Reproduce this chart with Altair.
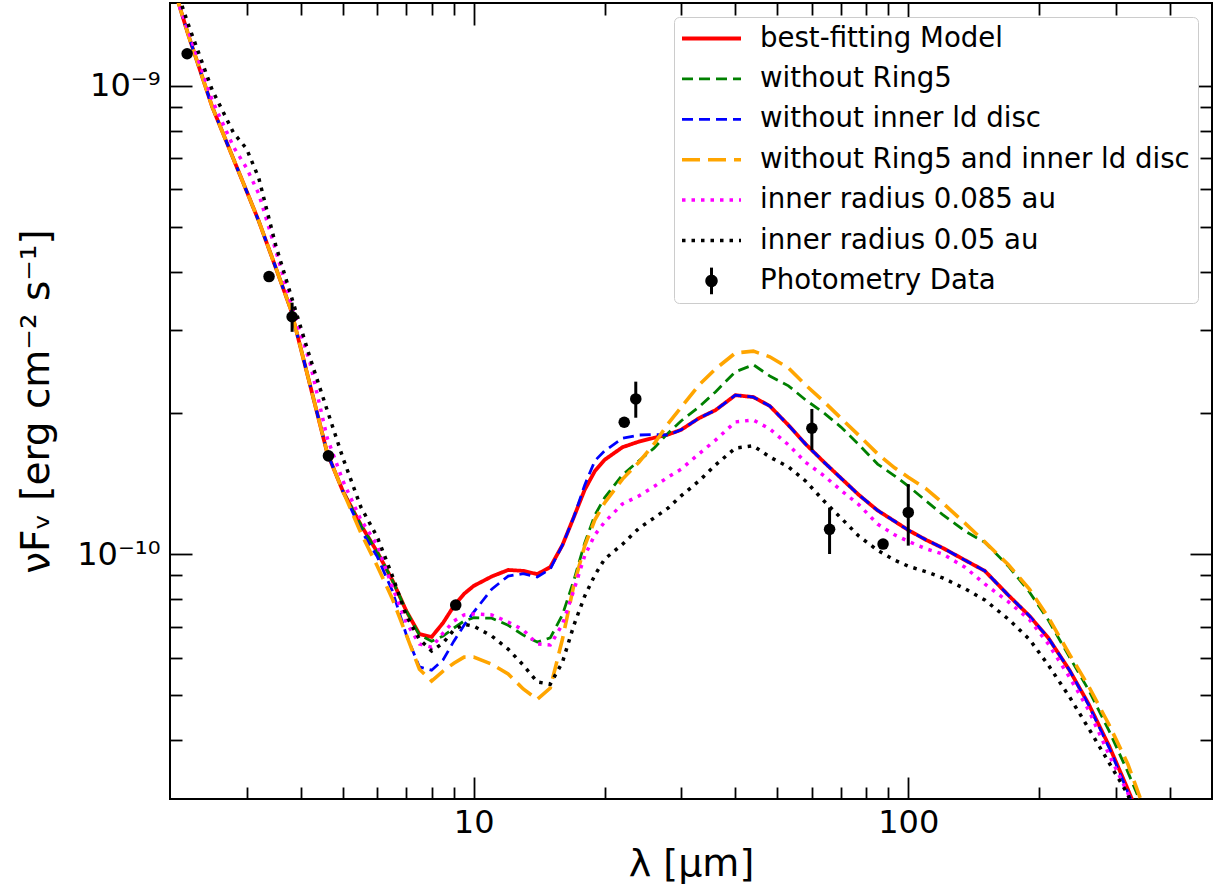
import altair as alt
import pandas as pd

# ---------------- data ----------------
lam_grid = [2.0, 2.2, 2.5, 2.8, 3.0, 3.2, 3.5, 3.8, 4.2, 4.6,
            5.0, 5.5, 6.0, 6.5, 7.0, 7.5, 8.0, 8.5, 9.0, 9.5,
            10, 11, 12, 13, 14, 15, 16, 17, 18, 19,
            20, 22, 24, 26, 28, 30, 33, 36, 40, 44,
            48, 53, 58, 64, 70, 77, 85, 93, 100, 110,
            120, 135, 150, 170, 190, 210, 235, 260, 290, 320,
            350]

# log10(nu F_nu / erg cm^-2 s^-1) for each model curve
log_best = [-8.764, -8.890, -9.045, -9.157, -9.225, -9.289, -9.388, -9.480, -9.639, -9.784,
            -9.866, -9.938, -9.996, -10.056, -10.122, -10.171, -10.177, -10.147, -10.111, -10.085,
            -10.068, -10.048, -10.034, -10.036, -10.043, -10.028, -9.981, -9.921, -9.863, -9.823,
            -9.799, -9.772, -9.760, -9.752, -9.745, -9.735, -9.710, -9.693, -9.661, -9.665,
            -9.684, -9.725, -9.765, -9.804, -9.838, -9.874, -9.907, -9.930, -9.949, -9.970,
            -9.987, -10.013, -10.036, -10.088, -10.132, -10.179, -10.248, -10.320, -10.410, -10.502,
            -10.589]
log_noring5 = [-8.764, -8.890, -9.045, -9.157, -9.225, -9.289, -9.388, -9.480, -9.639, -9.784,
               -9.866, -9.938, -9.996, -10.056, -10.122, -10.173, -10.186, -10.175, -10.158, -10.143,
               -10.136, -10.137, -10.152, -10.173, -10.188, -10.179, -10.130, -10.056, -9.977, -9.917,
               -9.880, -9.831, -9.801, -9.774, -9.742, -9.716, -9.686, -9.654, -9.611, -9.596,
               -9.620, -9.641, -9.671, -9.699, -9.729, -9.767, -9.808, -9.833, -9.855, -9.887,
               -9.916, -9.951, -9.975, -10.026, -10.081, -10.141, -10.220, -10.290, -10.378, -10.465,
               -10.551]
log_noinner = [-8.764, -8.890, -9.045, -9.157, -9.225, -9.289, -9.388, -9.480, -9.639, -9.784,
               -9.866, -9.949, -10.006, -10.079, -10.173, -10.241, -10.248, -10.226, -10.186, -10.152,
               -10.124, -10.075, -10.047, -10.042, -10.049, -10.032, -9.981, -9.921, -9.853, -9.801,
               -9.780, -9.753, -9.746, -9.745, -9.746, -9.735, -9.710, -9.693, -9.661, -9.665,
               -9.684, -9.725, -9.765, -9.804, -9.838, -9.874, -9.907, -9.930, -9.949, -9.970,
               -9.987, -10.013, -10.036, -10.088, -10.132, -10.179, -10.248, -10.322, -10.414, -10.508,
               -10.595]
log_noboth = [-8.764, -8.890, -9.045, -9.157, -9.225, -9.289, -9.388, -9.480, -9.639, -9.784,
              -9.866, -9.955, -10.026, -10.096, -10.173, -10.246, -10.271, -10.250, -10.233, -10.220,
              -10.220, -10.235, -10.256, -10.288, -10.310, -10.286, -10.182, -10.066, -9.983, -9.927,
              -9.891, -9.840, -9.804, -9.765, -9.722, -9.687, -9.639, -9.605, -9.571, -9.567,
              -9.579, -9.603, -9.639, -9.675, -9.710, -9.747, -9.786, -9.816, -9.836, -9.861,
              -9.891, -9.934, -9.974, -10.023, -10.075, -10.135, -10.214, -10.282, -10.365, -10.448,
              -10.547]
log_r085 = [-8.774, -8.881, -9.031, -9.131, -9.176, -9.231, -9.351, -9.466, -9.592, -9.752,
            -9.844, -9.927, -9.981, -10.071, -10.147, -10.192, -10.199, -10.169, -10.143, -10.130,
            -10.128, -10.130, -10.145, -10.162, -10.192, -10.194, -10.150, -10.077, -10.004, -9.959,
            -9.932, -9.893, -9.876, -9.856, -9.836, -9.819, -9.786, -9.757, -9.718, -9.714,
            -9.733, -9.767, -9.804, -9.833, -9.864, -9.895, -9.936, -9.959, -9.973, -9.989,
            -10.000, -10.028, -10.064, -10.102, -10.140, -10.192, -10.263, -10.333, -10.429, -10.510,
            -10.600]
log_r05 = [-8.753, -8.868, -9.009, -9.101, -9.135, -9.197, -9.340, -9.449, -9.581, -9.693,
           -9.795, -9.900, -9.964, -10.047, -10.132, -10.182, -10.207, -10.190, -10.162, -10.150,
           -10.154, -10.175, -10.203, -10.237, -10.273, -10.278, -10.231, -10.152, -10.090, -10.045,
           -10.011, -9.979, -9.945, -9.923, -9.902, -9.876, -9.844, -9.810, -9.774, -9.769,
           -9.793, -9.814, -9.844, -9.887, -9.923, -9.962, -9.992, -10.013, -10.026, -10.038,
           -10.051, -10.074, -10.098, -10.139, -10.182, -10.237, -10.305, -10.372, -10.446, -10.513,
           -10.611]

phot_lam = [2.19, 3.38, 3.82, 4.63, 9.09, 22.2, 23.6, 60.0, 65.9, 87.5, 100.0]
phot_flux = [1.169e-9, 3.91e-10, 3.21e-10, 1.62e-10, 7.78e-11, 1.911e-10, 2.143e-10,
             1.855e-10, 1.129e-10, 1.05e-10, 1.227e-10]
err_lam = [3.82, 23.6, 60.0, 65.9, 100.0]
err_lo = [2.98e-10, 1.954e-10, 1.667e-10, 1.0e-10, 1.042e-10]
err_hi = [3.44e-10, 2.333e-10, 2.04e-10, 1.256e-10, 1.41e-10]

series_names = ["best-fitting Model", "without Ring5", "without inner ld disc",
                "without Ring5 and inner ld disc", "inner radius 0.085 au",
                "inner radius 0.05 au", "Photometry Data"]
series_logs = [log_best, log_noring5, log_noinner, log_noboth, log_r085, log_r05]

x_major = [10, 100]
x_minor = [3, 4, 5, 6, 7, 8, 9, 20, 30, 40, 50, 60, 70, 80, 90, 200, 300, 400]
y_major = [1e-10, 1e-9]
y_minor = [4e-11, 5e-11, 6e-11, 7e-11, 8e-11, 9e-11,
           2e-10, 3e-10, 4e-10, 5e-10, 6e-10, 7e-10, 8e-10, 9e-10]

# ---------------- styles ----------------
colors = ["#ff0000", "#008000", "#0000ff", "#ffa500", "#ff00ff", "#000000", "#000000"]
dashes = [[1, 0], [11, 6], [11, 6], [18, 8], [3.5, 6], [3.5, 6], [1, 0]]
widths = [3.8, 2.8, 2.8, 3.6, 3.5, 3.5, 3.0]
phot_symbol = ("M0,-0.46L0,0.46"
               "M-0.16,0A0.16,0.16 0 1,0 0.16,0A0.16,0.16 0 1,0 -0.16,0"
               "M-0.06,0A0.06,0.06 0 1,0 0.06,0A0.06,0.06 0 1,0 -0.06,0")
shapes = ["stroke"] * 6 + [phot_symbol]

FONT = "DejaVu Sans"

rows = []
for name, logs in zip(series_names[:6], series_logs):
    for lam, lv in zip(lam_grid, logs):
        rows.append({"lam": lam, "flux": 10 ** lv, "series": name})
df_lines = pd.DataFrame(rows)
df_phot = pd.DataFrame({"lam": phot_lam, "flux": phot_flux, "series": "Photometry Data"})
df_err = pd.DataFrame({"lam": err_lam, "lo": err_lo, "hi": err_hi})

xscale = alt.Scale(type="log", domain=[2, 500], nice=False)
yscale = alt.Scale(type="log", domain=[3e-11, 1.5e-9], nice=False)
color_scale = alt.Scale(domain=series_names, range=colors)
dash_scale = alt.Scale(domain=series_names, range=dashes)
width_scale = alt.Scale(type="ordinal", domain=series_names, range=widths)
shape_scale = alt.Scale(domain=series_names, range=shapes)

leg = alt.Legend(title=None, orient="top-right", offset=14, symbolSize=3481,
                 clipHeight=27, rowPadding=11.4, labelFontSize=27.6, labelFont=FONT,
                 labelColor="black", labelLimit=700, padding=8,
                 strokeColor="#cccccc", fillColor="white", cornerRadius=5,
                 symbolOffset=-2, labelOffset=17, symbolOpacity=1)

common_tick = dict(domain=False, grid=False, tickColor="black", tickWidth=1.8)

ax_bottom_major = alt.Axis(orient="bottom", values=x_major, tickSize=22, offset=-22,
                           labelExpr="datum.value > 50 ? '100' : '10'",
                           labelFontSize=32, labelFont=FONT, labelColor="black",
                           labelPadding=8, title="λ [μm]", titleFont=FONT,
                           titleFontSize=38, titleFontWeight="normal",
                           titleColor="black", titlePadding=7, **common_tick)
ax_bottom_minor = alt.Axis(orient="bottom", values=x_minor, tickSize=12, offset=-12,
                           labels=False, title=None, **common_tick)
ax_top_major = alt.Axis(orient="top", values=x_major, tickSize=22, offset=-22,
                        labels=False, title=None, **common_tick)
ax_top_minor = alt.Axis(orient="top", values=x_minor, tickSize=12, offset=-12,
                        labels=False, title=None, **common_tick)

ax_left_major = alt.Axis(orient="left", values=y_major, tickSize=22, offset=-22,
                         labelExpr="datum.value > 5e-10 ? '10⁻⁹' : '10⁻¹⁰'",
                         labelFontSize=32, labelFont=FONT, labelColor="black",
                         labelPadding=10, title="νFᵥ [erg cm⁻² s⁻¹]", titleFont=FONT,
                         titleFontSize=39, titleFontWeight="normal",
                         titleColor="black", titlePadding=20, **common_tick)
ax_left_minor = alt.Axis(orient="left", values=y_minor, tickSize=12, offset=-12,
                         labels=False, title=None, **common_tick)
ax_right_major = alt.Axis(orient="right", values=y_major, tickSize=22, offset=-22,
                          labels=False, title=None, **common_tick)
ax_right_minor = alt.Axis(orient="right", values=y_minor, tickSize=12, offset=-12,
                          labels=False, title=None, **common_tick)

x_axes = [ax_bottom_major, ax_bottom_minor, ax_top_major, ax_top_minor]
y_axes = [ax_left_major, ax_left_minor, ax_right_major, ax_right_minor]

layers = []
for i, name in enumerate(series_names[:6]):
    xa = x_axes[i] if i < 4 else None
    ya = y_axes[i] if i < 4 else None
    layer = alt.Chart(df_lines).transform_filter(
        alt.datum.series == name
    ).mark_line(clip=True).encode(
        x=alt.X("lam:Q", scale=xscale, axis=xa),
        y=alt.Y("flux:Q", scale=yscale, axis=ya),
        color=alt.Color("series:N", scale=color_scale, legend=leg),
        strokeDash=alt.StrokeDash("series:N", scale=dash_scale, legend=leg),
        strokeWidth=alt.StrokeWidth("series:N", scale=width_scale, legend=leg),
    )
    layers.append(layer)

errbars = alt.Chart(df_err).mark_rule(color="black", strokeWidth=3).encode(
    x=alt.X("lam:Q", scale=xscale, axis=None),
    y=alt.Y("lo:Q", scale=yscale, axis=None),
    y2="hi:Q",
)
points = alt.Chart(df_phot).mark_circle(size=133, color="black", opacity=1).encode(
    x=alt.X("lam:Q", scale=xscale, axis=None),
    y=alt.Y("flux:Q", scale=yscale, axis=None),
)
# carries the legend symbol shapes only (no rows are drawn)
legend_shapes = alt.Chart(df_phot).transform_filter("datum.lam < 0").mark_point(opacity=1).encode(
    x=alt.X("lam:Q", scale=xscale, axis=None),
    y=alt.Y("flux:Q", scale=yscale, axis=None),
    shape=alt.Shape("series:N", scale=shape_scale, legend=leg),
)

chart = alt.layer(*layers, errbars, points, legend_shapes).resolve_axis(
    x="independent", y="independent"
).properties(
    width=1042, height=796,
    autosize=alt.AutoSizeParams(type="none"),
    padding={"left": 170, "top": 3, "right": 8, "bottom": 91},
).configure_view(stroke="black", strokeWidth=2)

chart.save("out.html", embed_options={"renderer": "svg", "actions": False})
